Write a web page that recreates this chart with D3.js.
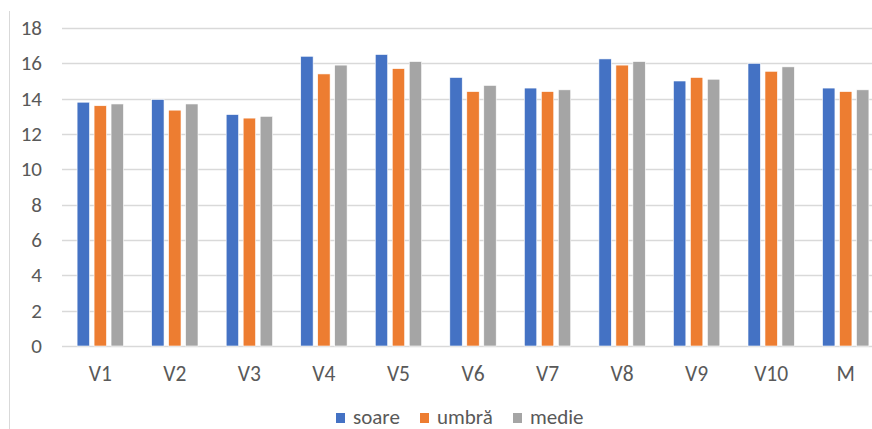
<!DOCTYPE html>
<html>
<head>
<meta charset="utf-8">
<script src="https://cdn.jsdelivr.net/npm/d3@7"></script>
<style>
  body { margin: 0; background: #fff; }
  svg text { font-family: Carlito, "Liberation Sans", Arial, sans-serif; fill: #595959; }
</style>
</head>
<body>
<svg id="chart" width="872" height="429"></svg>
<script>
var categories = ["V1", "V2", "V3", "V4", "V5", "V6", "V7", "V8", "V9", "V10", "M"];
var seriesNames = ["soare", "umbră", "medie"];
var soare = [13.8, 13.95, 13.1, 16.4, 16.5, 15.2, 14.6, 16.25, 15.0, 16.0, 14.6];
var umbra = [13.6, 13.35, 12.9, 15.4, 15.7, 14.4, 14.4, 15.9, 15.2, 15.55, 14.4];
var medie = [13.7, 13.7, 13.0, 15.9, 16.1, 14.75, 14.5, 16.1, 15.1, 15.8, 14.5];
var yTicks = [0, 2, 4, 6, 8, 10, 12, 14, 16, 18];
var colors = ["#4472C4", "#ED7D31", "#A5A5A5"];

var values = [soare, umbra, medie];
var rows = categories.map(function (c, i) {
    return { cat: c, vals: seriesNames.map(function (s, j) { return { name: s, value: values[j][i], color: colors[j] }; }) };
});

var svg = d3.select('#chart');

// chart area border (only the left edge is in the crop)
svg.append("line")
    .attr("x1", 9.5).attr("x2", 9.5)
    .attr("y1", 11).attr("y2", 429)
    .attr("stroke", "#d9d9d9");

var x0 = d3.scaleBand().domain(categories).range([63, 883]).paddingInner(0.378).paddingOuter(0.189);
var x1 = d3.scaleBand().domain(seriesNames).range([0, x0.bandwidth()]).paddingInner(0.27);
var y = d3.scaleLinear().domain([0, 18]).range([346, 28]);

// gridlines
svg.append("g")
    .attr("class", "grid")
    .selectAll("line")
    .data(yTicks)
    .enter().append("line")
    .attr("x1", 62).attr("x2", 872)
    .attr("y1", function (d) { return Math.round(y(d)) + 0.5; })
    .attr("y2", function (d) { return Math.round(y(d)) + 0.5; })
    .attr("stroke", "#d9d9d9")
    .attr("stroke-width", 1.3);

// y labels
svg.append("g")
    .selectAll("text")
    .data(yTicks)
    .enter().append("text")
    .attr("x", 42)
    .attr("y", function (d) { return y(d); })
    .attr("dy", "0.34em")
    .attr("text-anchor", "end")
    .attr("font-size", 21)
    .text(function (d) { return d; });

// bars
var groups = svg.append("g")
    .selectAll("g")
    .data(rows)
    .enter().append("g")
    .attr("transform", function (d) { return "translate(" + x0(d.cat) + ",0)"; });

groups.selectAll("rect")
    .data(function (d) { return d.vals; })
    .enter().append("rect")
    .attr("x", function (d) { return x1(d.name); })
    .attr("width", x1.bandwidth())
    .attr("y", function (d) { return y(d.value); })
    .attr("height", function (d) { return y(0) - y(d.value); })
    .attr("fill", function (d) { return d.color; })
    .attr("stroke", "#ffffff")
    .attr("stroke-width", 0.6);

// x labels
svg.append("g")
    .selectAll("text")
    .data(categories)
    .enter().append("text")
    .attr("x", function (d) { return x0(d) + x0.bandwidth() / 2; })
    .attr("y", 381)
    .attr("text-anchor", "middle")
    .attr("font-size", 21.5)
    .text(function (d) { return d; });

// legend
var legendX = [336, 420, 513];
var legend = svg.append("g")
    .selectAll("g")
    .data(seriesNames)
    .enter().append("g")
    .attr("transform", function (d, i) { return "translate(" + legendX[i] + ",0)"; });

legend.append("rect")
    .attr("x", 0).attr("y", 413)
    .attr("width", 9).attr("height", 10)
    .attr("fill", function (d, i) { return colors[i]; });

legend.append("text")
    .attr("x", 17)
    .attr("y", 424)
    .attr("font-size", 21)
    .text(function (d) { return d; });
</script>
</body>
</html>
